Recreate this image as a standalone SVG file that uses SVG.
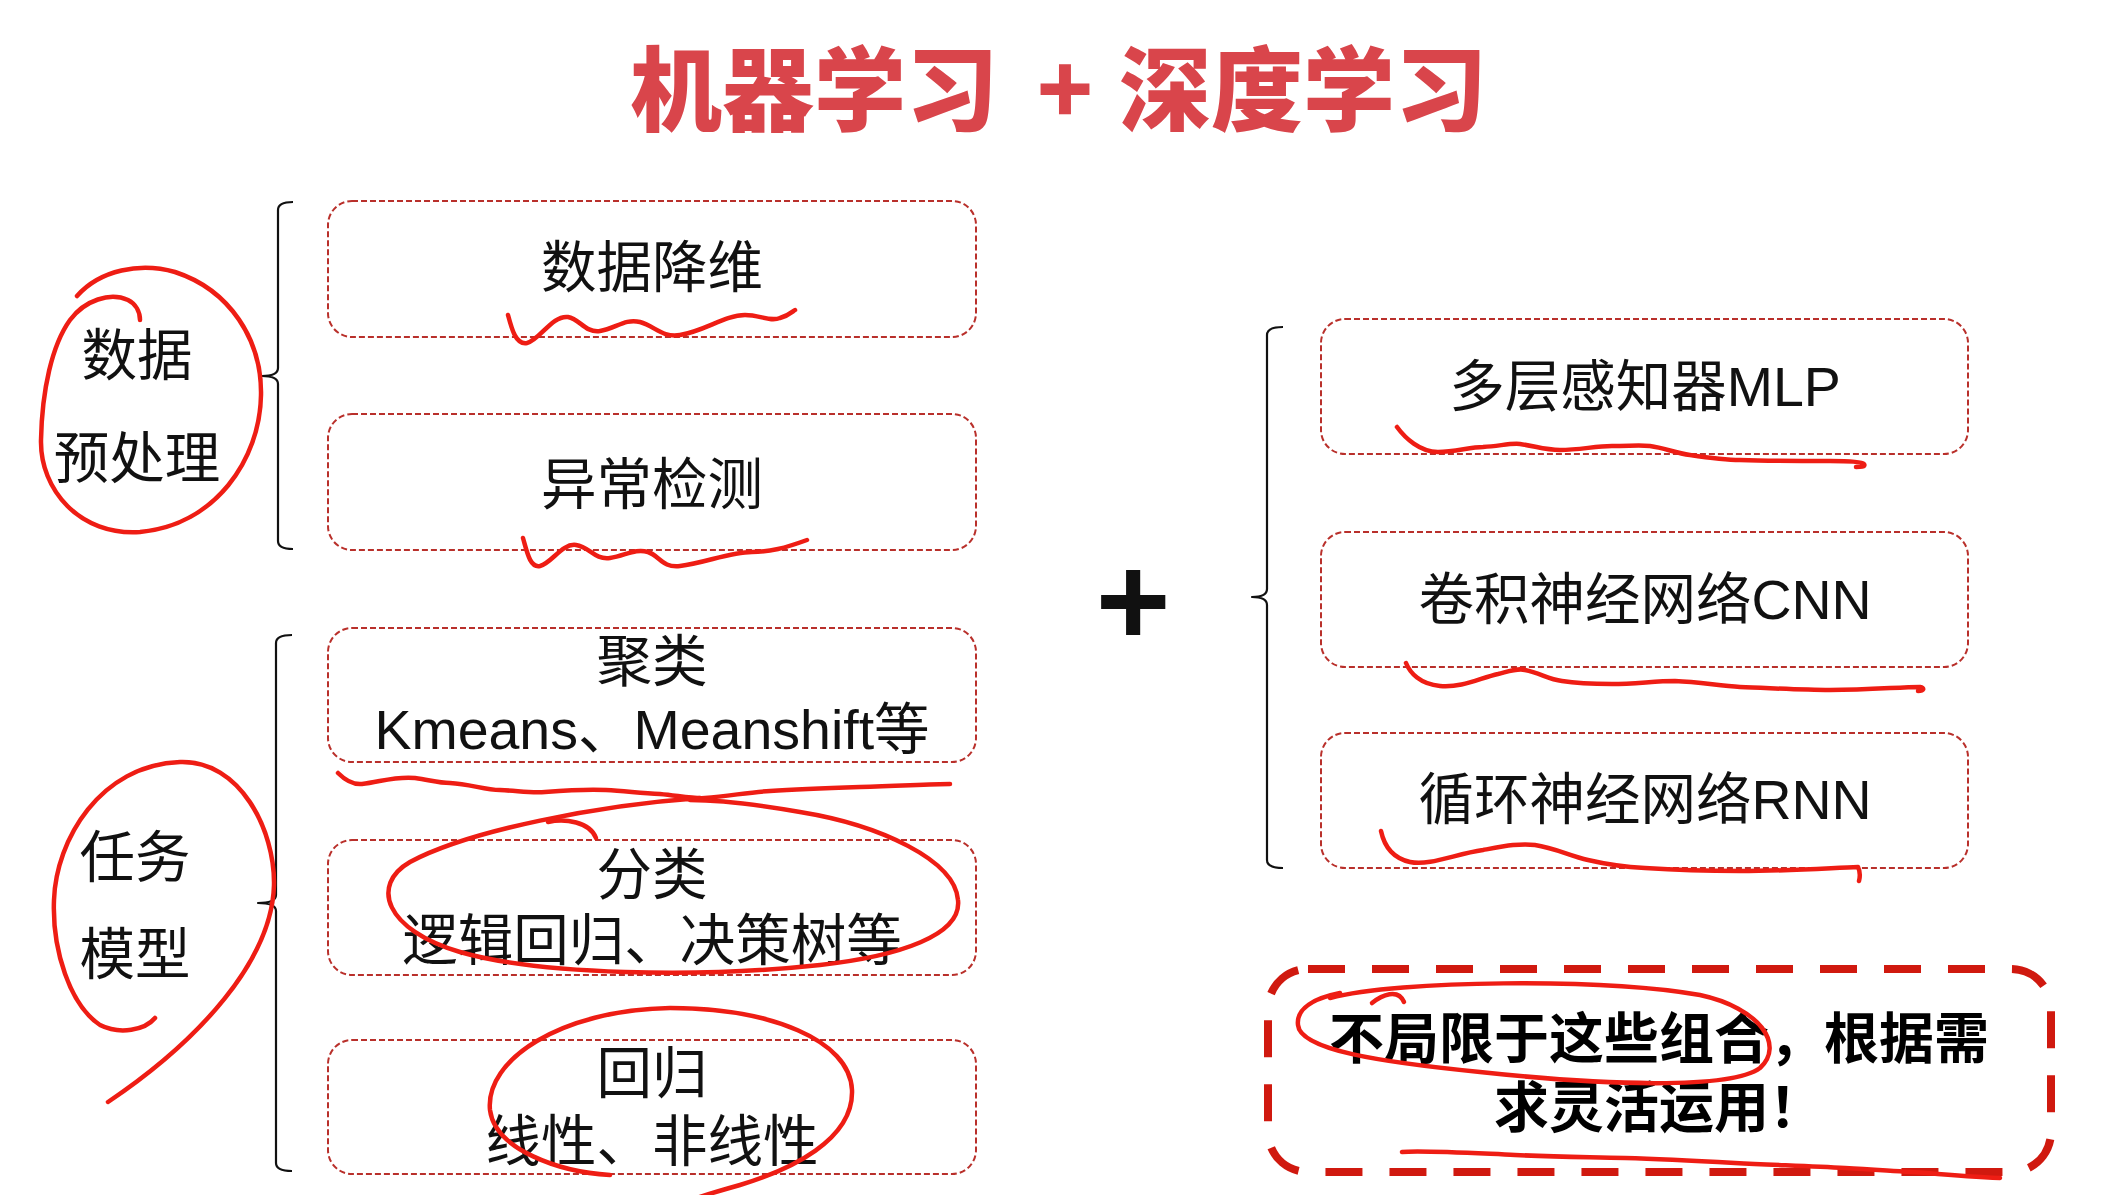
<svg xmlns="http://www.w3.org/2000/svg" width="2102" height="1195" viewBox="0 0 2102 1195">
  <style>
    .title { font-family: "Noto Sans CJK SC", sans-serif; font-weight: 900; font-size: 92px; fill: #d9454b; }
    .lbl { font-family: "Liberation Sans", "Noto Sans CJK SC", sans-serif; font-size: 55.5px; fill: #111; text-anchor: middle; }
    .note { font-family: "Liberation Sans", "Noto Sans CJK SC", sans-serif; font-weight: 700; font-size: 55px; fill: #000; text-anchor: middle; }
    .box { fill: none; stroke: #b9302b; stroke-width: 2; stroke-dasharray: 6 3; }
    .brace { fill: none; stroke: #111; stroke-width: 2.2; stroke-linejoin: round; }
    .pen { fill: none; stroke: #ee1d14; stroke-width: 4.5; stroke-linecap: round; stroke-linejoin: round; }
  </style>

  <rect width="2102" height="1195" fill="#fff"/>

  <!-- title -->
  <text class="title" y="124" text-anchor="middle"><tspan x="814">机器学习</tspan><tspan x="1065">+</tspan><tspan x="1303">深度学习</tspan></text>

  <!-- braces -->
  <g id="connectors">
    <path class="brace" d="M293,202 Q278,202 278,210 L278,368 Q278,376 262,376 Q278,376 278,384 L278,541 Q278,549 293,549"/>
    <path class="brace" d="M292,635 Q276,635 276,643 L276,895 Q276,903 258,903 Q276,903 276,911 L276,1163 Q276,1171 292,1171"/>
    <path class="brace" d="M1283,327 Q1267,327 1267,335 L1267,589 Q1267,597 1252,597 Q1267,597 1267,605 L1267,860 Q1267,868 1283,868"/>
  </g>

  <!-- group labels -->
  <g id="preprocess">
    <text class="lbl" x="137" y="375">数据</text>
    <text class="lbl" x="137" y="478">预处理</text>
  </g>
  <g id="task-model">
    <text class="lbl" x="135" y="877">任务</text>
    <text class="lbl" x="135" y="974">模型</text>
  </g>

  <!-- machine learning boxes -->
  <g id="dim-reduction">
    <rect class="box" x="328" y="201" width="648" height="136" rx="24"/>
    <text class="lbl" x="652" y="287">数据降维</text>
  </g>
  <g id="anomaly">
    <rect class="box" x="328" y="414" width="648" height="136" rx="24"/>
    <text class="lbl" x="652" y="504">异常检测</text>
  </g>
  <g id="clustering">
    <rect class="box" x="328" y="628" width="648" height="134" rx="24"/>
    <text class="lbl" x="652" y="681">聚类</text>
    <text class="lbl" x="652" y="749">Kmeans、Meanshift等</text>
  </g>
  <g id="classification">
    <rect class="box" x="328" y="840" width="648" height="135" rx="24"/>
    <text class="lbl" x="652" y="894">分类</text>
    <text class="lbl" x="652" y="960">逻辑回归、决策树等</text>
  </g>
  <g id="regression">
    <rect class="box" x="328" y="1040" width="648" height="134" rx="24"/>
    <text class="lbl" x="652" y="1093">回归</text>
    <text class="lbl" x="652" y="1161">线性、非线性</text>
  </g>

  <!-- plus sign -->
  <g id="plus">
    <text x="1133" y="645" text-anchor="middle" font-family="Liberation Sans, sans-serif" font-weight="700" font-size="128" fill="#111">+</text>
  </g>

  <!-- deep learning boxes -->
  <g id="mlp">
    <rect class="box" x="1321" y="319" width="647" height="135" rx="24"/>
    <text class="lbl" x="1645" y="406">多层感知器MLP</text>
  </g>
  <g id="cnn">
    <rect class="box" x="1321" y="532" width="647" height="135" rx="24"/>
    <text class="lbl" x="1645" y="619">卷积神经网络CNN</text>
  </g>
  <g id="rnn">
    <rect class="box" x="1321" y="733" width="647" height="135" rx="24"/>
    <text class="lbl" x="1645" y="819">循环神经网络RNN</text>
  </g>

  <!-- note -->
  <g id="note">
    <rect x="1268" y="969" width="783" height="203" rx="40" fill="none" stroke="#d0190f" stroke-width="8" stroke-dasharray="37 27"/>
    <text class="note" x="1659" y="1058">不局限于这些组合，根据需</text>
    <text class="note" x="1659" y="1127">求灵活运用！</text>
  </g>

  <!-- hand-drawn pen marks -->
  <g id="pen-marks">
    <path class="pen" d="M77,296 C100,270 140,262 175,272 C230,290 262,340 261,395 C260,460 215,525 140,532 C80,536 40,490 41,440 C42,390 52,345 70,320 C85,300 110,292 128,300 C136,304 140,312 140,320"/>
    <path class="pen" stroke-width="5.5" d="M508,315 C512,330 516,345 527,343 C540,340 552,315 568,317 C580,319 585,333 600,331 C615,329 625,318 640,322 C655,326 662,338 680,335 C705,331 725,315 745,315 C760,315 770,322 780,318 C788,316 792,312 795,310"/>
    <path class="pen" stroke-width="5.5" d="M523,538 C527,552 530,568 540,566 C552,563 562,543 576,545 C590,547 594,560 610,558 C625,556 635,548 648,552 C660,556 662,568 680,566 C705,563 730,552 752,552 C770,552 785,548 807,540"/>
    <path class="pen" d="M155,1018 C145,1030 120,1035 100,1025 C70,1005 52,950 54,900 C56,840 100,765 180,762 C240,760 275,830 274,885 C272,960 200,1040 108,1102"/>
    <path class="pen" stroke-width="5.5" d="M338,773 C345,780 352,785 362,784 C380,782 395,776 415,778 C430,780 438,783 450,783 C470,784 485,790 500,790 C520,791 530,793 545,792 C570,790 590,789 606,790 C625,791 640,793 660,794 C680,796 695,799 705,798 C730,796 750,792 770,791 C800,789 830,788 860,787 C900,786 930,784 950,784"/>
    <path class="pen" d="M548,822 C565,818 590,822 596,838"/>
    <path class="pen" d="M700,798 C600,805 470,830 410,862 C370,885 385,930 460,952 C540,975 700,978 820,965 C900,956 962,935 958,900 C955,860 880,825 800,812 C760,805 720,800 690,800"/>
    <path class="pen" d="M610,1175 C560,1172 495,1150 490,1110 C485,1060 560,1010 670,1008 C770,1008 850,1040 852,1090 C854,1140 790,1170 740,1185 C715,1192 695,1198 680,1204"/>
    <path class="pen" d="M1397,427 C1405,438 1420,452 1438,452 C1455,452 1470,447 1483,447 C1500,446 1510,443 1520,444 C1535,446 1545,450 1560,450 C1580,450 1595,446 1612,446 C1630,446 1640,445 1650,446 C1665,448 1675,453 1690,455 C1710,458 1725,460 1740,460 C1770,461 1800,461 1830,461 C1850,461 1862,462 1864,464 C1866,467 1860,467 1856,467"/>
    <path class="pen" d="M1406,663 C1410,673 1420,684 1440,686 C1462,688 1480,678 1498,674 C1510,671 1518,668 1525,670 C1540,673 1548,679 1562,681 C1580,684 1595,684 1612,684 C1635,684 1655,681 1675,681 C1700,682 1720,686 1740,687 C1770,688 1800,690 1830,690 C1870,690 1900,687 1920,687 C1925,688 1924,691 1918,691"/>
    <path class="pen" d="M1381,831 C1384,845 1392,858 1410,862 C1430,866 1455,854 1483,850 C1505,846 1520,843 1535,845 C1555,848 1570,856 1588,860 C1605,864 1625,867 1645,868 C1675,870 1705,871 1740,871 C1790,871 1830,868 1858,867 C1860,871 1860,877 1859,881"/>
    <path class="pen" stroke-width="3.5" d="M1372,1003 C1382,995 1398,988 1404,1002"/>
    <path class="pen" stroke-width="3.5" d="M1330,998 C1400,980 1600,978 1700,995 C1760,1008 1785,1045 1760,1068 C1730,1090 1600,1085 1480,1072 C1380,1062 1300,1050 1298,1025 C1296,1008 1315,998 1340,993"/>
    <path class="pen" stroke-width="5" d="M1402,1152 C1420,1150 1470,1153 1515,1155 C1560,1157 1590,1157 1625,1158 C1665,1159 1700,1161 1735,1163 C1775,1165 1810,1166 1845,1168 C1880,1170 1905,1172 1927,1173 C1950,1175 1975,1177 2000,1178"/>
  </g>
</svg>
